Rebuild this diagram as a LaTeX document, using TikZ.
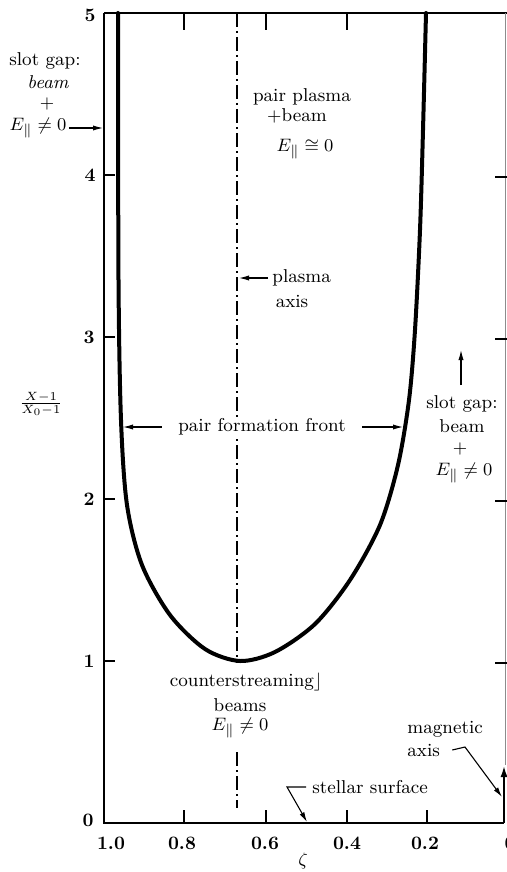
\documentclass[tikz,border=0pt]{standalone}
\usetikzlibrary{arrows.meta}
\begin{document}
\begin{tikzpicture}[x=0.5pt,y=-0.5pt,
  axis/.style={line width=1pt},
  front/.style={line width=2pt, line join=round, line cap=round},
  tickmark/.style={line width=0.7pt},
  lbl/.style={font=\fontsize{9.3}{11}\selectfont, inner sep=0pt},
  num/.style={font=\fontsize{9.5}{11}\selectfont\bfseries, inner sep=0pt},
  arr/.style={line width=0.55pt, -{Latex[length=5pt,width=2.6pt]}},
  dashdot/.style={line width=0.6pt, dash pattern=on 7pt off 2pt on 1pt off 2pt}]
\useasboundingbox (0,0) rectangle (507,872);

% axes
\draw[axis] (104,13) -- (104,823) -- (504,823);
\draw[axis] (104,13) -- (507,13);
\draw[line width=0.4pt, black!45] (505,13) -- (505,765);
\draw[line width=1.2pt, -{Latex[length=6pt,width=3.5pt]}] (504,823) -- (504,765);

% ticks
\foreach \yy in {175,337,499,661} {
  \draw[tickmark] (104,\yy) -- (115,\yy);
  \draw[tickmark] (507,\yy+2) -- (495,\yy+2);
}
\foreach \xx in {184,266,347,427} \draw[tickmark] (\xx,823) -- (\xx,810);
\foreach \xx in {184,266,347} \draw[tickmark] (\xx,13) -- (\xx,30);

% tick labels
\node[num] (y5) at (90,15) {5};
\node[num] (y4) at (90,175) {4};
\node[num] (y3) at (89,337) {3};
\node[num] (y2) at (89,499) {2};
\node[num] (y1) at (89,661) {1};
\node[num] (y0) at (88,820) {0};
\node[num] (x10) at (111,843) {1.0};
\node[num] (x08) at (182,843) {0.8};
\node[num] (x06) at (265,843) {0.6};
\node[num] (x04) at (347,843) {0.4};
\node[num] (x02) at (425,843) {0.2};
\node[num] (x00) at (510,843) {0};
\node[lbl] (zeta) at (303,861) {$\zeta$};
\node[font=\footnotesize, inner sep=0pt] (ylab) at (41,404) {$\frac{X-1}{X_0-1}$};

% plasma axis (dash-dot)
\draw[dashdot] (237,13) -- (237,663);
\draw[dashdot] (237,752) -- (237,808);

% pair formation front
\draw[front] plot[smooth, tension=0.5] coordinates {(118,13) (118.5,280) (121,420) (127,505) (142,565) (170,615) (205,649) (240,661) (275,652) (315,624) (350,580) (380,525) (398,465) (409,400) (415,330) (420,230) (423,130) (426,13)};

% left slot gap label
\node[lbl] (sgl1) at (45,61) {slot gap:};
\node[lbl] (sgl2) at (48,82) {\itshape beam};
\node[lbl] (sgl3) at (47,104) {$+$};
\node[lbl] (sgl4) at (38,128) {$E_\parallel\neq 0$};
\coordinate (sglT) at (103,128);
\draw[arr] ([xshift=1pt]sgl4.east) -- (sglT);

% right slot gap label
\node[lbl] (sgr1) at (462,404) {slot gap:};
\node[lbl] (sgr2) at (462,426) {beam};
\node[lbl] (sgr3) at (460,449) {$+$};
\node[lbl] (sgr4) at (464,473) {$E_\parallel\neq 0$};
\coordinate (sgrT) at (461,350);
\draw[arr, shorten <=5pt] (sgr1.north -| sgrT) -- (sgrT);

% pair plasma
\node[lbl] (pp1) at (302,97) {pair plasma};
\node[lbl] (pp2) at (297,116) {$+$beam};
\node[lbl] (pp3) at (305,149) {$E_\parallel\cong 0$};

% plasma axis label
\node[lbl, anchor=west] (pa1) at (272,278) {plasma};
\node[lbl] (pa2) at (292,301) {axis};
\coordinate (paT) at (239,278);
\draw[arr] ([xshift=-2pt]pa1.west) -- (paT);

% pair formation front label
\node[lbl, fill=white, inner sep=1pt] (pff) at (262,427) {pair formation front};
\coordinate (pffL) at (123,427);
\coordinate (pffR) at (403,427);
\draw[arr] ([xshift=-7pt]pff.west) -- (pffL);
\draw[arr] ([xshift=7pt]pff.east) -- (pffR);

% counterstreaming beams
\node[lbl] (cs1) at (246,682) {counterstreaming$\rfloor$};
\node[lbl] (cs2) at (240,705) {beams};
\node[lbl] (cs3) at (240,728) {$E_\parallel\neq 0$};

% stellar surface
\node[lbl, anchor=west] (ss) at (312,787) {stellar surface};
\coordinate (ssB) at (287,787);
\coordinate (ssT) at (307,822);
\draw[arr] ([xshift=-3pt]ss.west) -- (ssB) -- (ssT);

% magnetic axis
\node[lbl, anchor=west] (ma1) at (407,729) {magnetic};
\node[lbl, anchor=west] (ma2) at (407,750) {axis};
\coordinate (maB) at (465,747);
\coordinate (maT) at (502,797);
\draw[arr] ([xshift=6pt]ma2.east) -- (maB) -- (maT);
\end{tikzpicture}
\end{document}
